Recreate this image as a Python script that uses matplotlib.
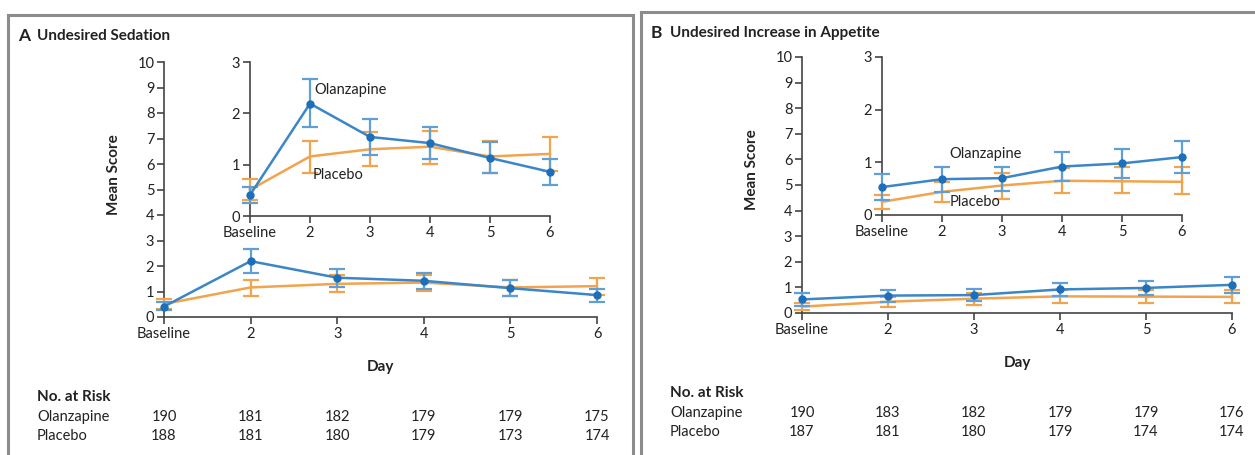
import matplotlib.pyplot as plt
from matplotlib.patches import Rectangle

plt.rcParams['font.family'] = ['Lato', 'DejaVu Sans']

days = ['Baseline', '2', '3', '4', '5', '6']

# Panel A - undesired sedation
sed_olz = [0.41, 2.19, 1.54, 1.42, 1.13, 0.86]
sed_olz_lo = [0.26, 1.73, 1.18, 1.11, 0.83, 0.60]
sed_olz_hi = [0.57, 2.66, 1.89, 1.74, 1.45, 1.11]
sed_pla = [0.51, 1.16, 1.30, 1.35, 1.16, 1.21]
sed_pla_lo = [0.31, 0.84, 0.97, 1.01, 0.84, 0.88]
sed_pla_hi = [0.72, 1.47, 1.64, 1.66, 1.47, 1.54]
sed_risk_olz = [190, 181, 182, 179, 179, 175]
sed_risk_pla = [188, 181, 180, 179, 173, 174]

# Panel B - undesired increase in appetite
app_olz = [0.53, 0.68, 0.70, 0.92, 0.98, 1.10]
app_olz_lo = [0.29, 0.44, 0.46, 0.65, 0.70, 0.79]
app_olz_hi = [0.78, 0.91, 0.92, 1.19, 1.25, 1.40]
app_pla = [0.25, 0.44, 0.56, 0.65, 0.64, 0.63]
app_pla_lo = [0.11, 0.24, 0.30, 0.41, 0.41, 0.39]
app_pla_hi = [0.38, 0.62, 0.80, 0.89, 0.91, 0.91]
app_risk_olz = [190, 183, 182, 179, 179, 176]
app_risk_pla = [187, 181, 180, 179, 174, 174]

W, H = 1255, 455
BLUE = '#3a86c8'
BLUE_DOT = '#1c6fb8'
BLUE_ERR = '#5f9fd6'
ORANGE = '#f2a34d'
TXT = '#222222'
GRAY = '#8c8c8c'

fig = plt.figure(figsize=(W / 100, H / 100), dpi=100)


def px_axes(x0, x1, ytop, ybot):
    # pixel box (from top-left) -> figure axes
    return fig.add_axes([x0 / W, 1 - ybot / H, (x1 - x0) / W, (ybot - ytop) / H])


def style_axes(ax, ymax, yticks, fs):
    x = list(range(len(days)))
    ax.set_xlim(0, 5)
    ax.set_ylim(0, ymax)
    ax.set_xticks(x)
    ax.set_xticklabels(days)
    ax.set_yticks(yticks)
    ax.patch.set_alpha(0)
    for s in ['top', 'right']:
        ax.spines[s].set_visible(False)
    for s in ['left', 'bottom']:
        ax.spines[s].set_color('#444444')
        ax.spines[s].set_linewidth(1.2)
    ax.tick_params(direction='out', length=5, width=1.2, color='#444444',
                   labelsize=fs, labelcolor=TXT, pad=2)


def draw_series(ax, olz, olz_lo, olz_hi, pla, pla_lo, pla_hi, cap):
    x = list(range(len(days)))
    ax.errorbar(x, pla, yerr=[[m - l for m, l in zip(pla, pla_lo)],
                              [h - m for m, h in zip(pla, pla_hi)]],
                color=ORANGE, ecolor=ORANGE, lw=1.8, elinewidth=1.6,
                capsize=cap, capthick=1.6, clip_on=False, zorder=3)
    ax.errorbar(x, olz, yerr=[[m - l for m, l in zip(olz, olz_lo)],
                              [h - m for m, h in zip(olz, olz_hi)]],
                color=BLUE, ecolor=BLUE_ERR, lw=1.8, elinewidth=1.6,
                capsize=cap, capthick=1.6, fmt='-o', ms=5, mfc=BLUE_DOT,
                mec=BLUE_DOT, clip_on=False, zorder=4)


def panel(letter, title, fx, ftop, main_box, inset_box, data, risk_olz, risk_pla,
          lab_olz, lab_pla):
    olz, olz_lo, olz_hi, pla, pla_lo, pla_hi = data
    fig.text((fx + 10) / W, 1 - (ftop + 21) / H, letter, fontsize=12.5,
             fontweight='bold', color=TXT, va='center')
    fig.text((fx + 29) / W, 1 - (ftop + 21) / H, title, fontsize=11,
             fontweight='bold', color=TXT, va='center')

    x0, x1, ytop, ybot = main_box
    ax = px_axes(x0, x1, ytop, ybot)
    style_axes(ax, 10, range(0, 11), 10.5)
    draw_series(ax, olz, olz_lo, olz_hi, pla, pla_lo, pla_hi, 6)
    ax.set_xlabel('Day', fontsize=11, fontweight='bold', color=TXT, labelpad=14)
    fig.text((x0 - 50) / W, 1 - ((ytop + ybot) / 2 - 15) / H, 'Mean Score',
             rotation=90, fontsize=11, fontweight='bold', color=TXT,
             ha='center', va='center')

    ix0, ix1, iytop, iybot = inset_box
    ins = px_axes(ix0, ix1, iytop, iybot)
    style_axes(ins, 3, range(0, 4), 10.5)
    draw_series(ins, olz, olz_lo, olz_hi, pla, pla_lo, pla_hi, 6)
    ins.text(lab_olz[0], lab_olz[1], 'Olanzapine', fontsize=10.5, color=TXT,
             va='center')
    ins.text(lab_pla[0], lab_pla[1], 'Placebo', fontsize=10.5, color=TXT,
             va='center')

    # numbers at risk
    fig.text((fx + 29) / W, 1 - (ybot + 80) / H, 'No. at Risk', fontsize=11,
             fontweight='bold', color=TXT, va='center')
    step = (x1 - x0) / 5
    for row, (name, vals) in enumerate([('Olanzapine', risk_olz),
                                        ('Placebo', risk_pla)]):
        yy = 1 - (ybot + 100 + row * 19) / H
        fig.text((fx + 29) / W, yy, name, fontsize=10.5, color=TXT, va='center')
        for i, v in enumerate(vals):
            fig.text((x0 + i * step) / W, yy, str(v), fontsize=10.5, color=TXT,
                     ha='center', va='center')


panel('A', 'Undesired Sedation', 8, 15,
      (164, 597, 62, 317), (250, 550, 62, 216),
      (sed_olz, sed_olz_lo, sed_olz_hi, sed_pla, sed_pla_lo, sed_pla_hi),
      sed_risk_olz, sed_risk_pla, (1.07, 2.45), (1.05, 0.80))
panel('B', 'Undesired Increase in Appetite', 641, 12,
      (802, 1232, 57, 313), (882, 1182, 57, 215),
      (app_olz, app_olz_lo, app_olz_hi, app_pla, app_pla_lo, app_pla_hi),
      app_risk_olz, app_risk_pla, (1.12, 1.15), (1.12, 0.24))

# panel frames
fig.add_artist(Rectangle((8 / W, -0.05), (633 - 8) / W, 1.05 - 15 / H,
                         transform=fig.transFigure, fill=False, ec=GRAY, lw=2.2))
fig.add_artist(Rectangle((641 / W, -0.05), (1275 - 641) / W, 1.05 - 12 / H,
                         transform=fig.transFigure, fill=False, ec=GRAY, lw=2.2))

fig.savefig('out.png', dpi=100)
plt.close(fig)
